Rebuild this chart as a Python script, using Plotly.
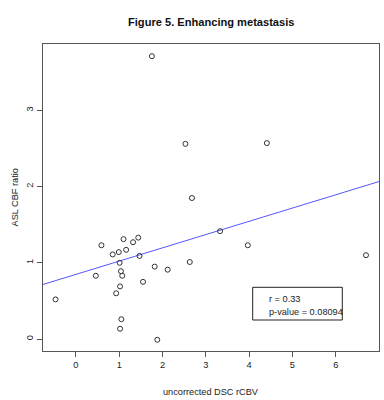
import plotly.graph_objects as go

# Data
x_rcbv = [1.755, 2.53, 4.41, 2.68, 3.33, 3.97, 6.70, 2.63, -0.47,
          1.10, 1.44, 0.59, 1.32, 0.85, 0.99, 1.16, 1.47, 1.01, 1.04,
          1.07, 0.46, 1.82, 2.12, 1.55, 1.02, 0.93, 1.05, 1.02, 1.88]
y_cbf = [3.71, 2.56, 2.57, 1.85, 1.415, 1.23, 1.10, 1.01, 0.52,
         1.31, 1.33, 1.23, 1.27, 1.11, 1.14, 1.17, 1.09, 1.00, 0.89,
         0.83, 0.83, 0.95, 0.91, 0.75, 0.69, 0.60, 0.26, 0.135, -0.01]

fit_intercept = 0.848
fit_slope = 0.174
x_ticks = [0, 1, 2, 3, 4, 5, 6]
y_ticks = [0, 1, 2, 3]
x_range = [-0.76, 7.0]
y_range = [-0.157, 3.87]
stat_r = "r = 0.33"
stat_p = "p-value = 0.08094"
title_text = "Figure 5. Enhancing metastasis"
x_title = "uncorrected DSC rCBV"
y_title = "ASL CBF ratio"

FONT = "Liberation Sans, Arial, sans-serif"
FS = 9.2
W, H = 384, 400
L, R, T, B = 43, 5, 44, 49
pw, ph = W - L - R, H - T - B

fig = go.Figure()
line_x = [x_range[0], x_range[1]]
fig.add_trace(go.Scatter(x=line_x, y=[fit_intercept + fit_slope * v for v in line_x],
                         mode="lines", line=dict(color="#5555ff", width=1),
                         hoverinfo="skip", showlegend=False))
fig.add_trace(go.Scatter(x=x_rcbv, y=y_cbf, mode="markers",
                         marker=dict(symbol="circle-open", size=5, color="#333333",
                                     line=dict(width=1, color="#333333")),
                         showlegend=False))

axis_common = dict(showgrid=False, zeroline=False, showline=True, mirror=True,
                   linecolor="#555555", linewidth=1, ticks="outside", ticklen=5,
                   tickcolor="#555555", tickfont=dict(family=FONT, size=FS, color="#222222"))
fig.update_xaxes(range=x_range, tickvals=x_ticks, **axis_common)
fig.update_yaxes(range=y_range, tickvals=y_ticks, tickangle=-90, **axis_common)

# Stats box
bx0, bx1, by0, by1 = 252.7, 342.3, 287.3, 320.0
fig.add_shape(type="rect", xref="paper", yref="paper",
              x0=(bx0 - L) / pw, x1=(bx1 - L) / pw,
              y0=(H - B - by1) / ph, y1=(H - B - by0) / ph,
              line=dict(color="#222222", width=1), fillcolor="white", layer="above")
tx = (267.3 - L) / pw
for txt, ypix in [(stat_r, 298.5), (stat_p, 311.5)]:
    fig.add_annotation(text=txt, xref="paper", yref="paper", x=tx,
                       y=(H - B - ypix) / ph, xanchor="left", yanchor="middle",
                       showarrow=False, font=dict(family=FONT, size=FS, color="#222222"))

# Titles
fig.add_annotation(text="<b>" + title_text + "</b>", xref="paper", yref="paper",
                   x=0.5, y=1, yshift=44 - 22, yanchor="middle", showarrow=False,
                   font=dict(family=FONT, size=11.1, color="#111111"))
fig.add_annotation(text=x_title, xref="paper", yref="paper", x=0.5, y=0,
                   yshift=-(392 - (H - B)), yanchor="middle", showarrow=False,
                   font=dict(family=FONT, size=FS, color="#222222"))
fig.add_annotation(text=y_title, xref="paper", yref="paper", x=0, y=0.5,
                   xshift=-(L - 14), xanchor="center", textangle=-90, showarrow=False,
                   font=dict(family=FONT, size=FS, color="#222222"))

fig.update_layout(width=W, height=H, margin=dict(l=L, r=R, t=T, b=B),
                  plot_bgcolor="white", paper_bgcolor="white", showlegend=False)
fig.write_html("out.html", config={"displayModeBar": False},
               post_script="document.body.style.margin='0';document.body.style.padding='0';document.body.style.overflow='hidden';")
